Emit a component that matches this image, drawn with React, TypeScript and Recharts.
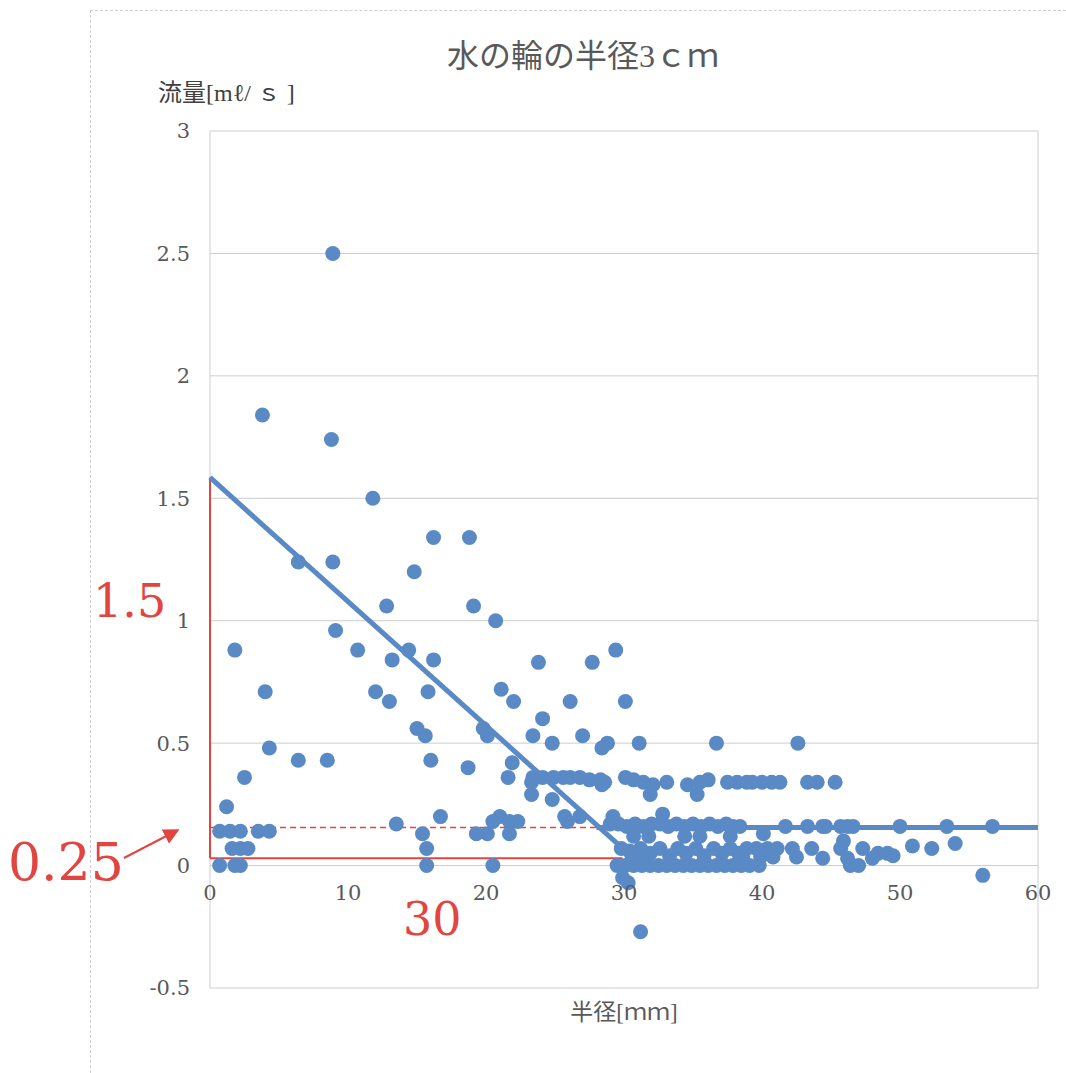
import React from "react";
import {
  ScatterChart,
  Scatter,
  XAxis,
  YAxis,
  CartesianGrid,
  ReferenceLine,
  ReferenceDot,
} from "recharts";

// 半径[mm] , 流量[mℓ/s]
const upperPoints: [number, number][] = [
  [8.9, 2.5], [3.8, 1.84], [8.8, 1.74], [11.8, 1.5], [18.8, 1.34], [16.2, 1.34],
  [6.4, 1.24], [8.9, 1.24], [14.8, 1.2], [12.8, 1.06], [19.1, 1.06], [20.7, 1.0],
  [9.1, 0.96], [1.8, 0.88], [10.7, 0.88], [14.4, 0.88], [29.4, 0.88], [13.2, 0.84],
  [16.2, 0.84], [23.8, 0.83], [27.7, 0.83], [4.0, 0.71], [12.0, 0.71], [15.8, 0.71],
  [21.1, 0.72], [13.0, 0.67], [22.0, 0.67], [26.1, 0.67], [30.1, 0.67], [24.1, 0.6],
  [15.0, 0.56], [19.8, 0.56], [15.6, 0.53], [20.1, 0.53], [23.4, 0.53], [27.0, 0.53],
  [24.8, 0.5], [28.8, 0.5], [31.1, 0.5], [36.7, 0.5], [42.6, 0.5], [4.3, 0.48],
  [28.4, 0.48], [6.4, 0.43], [8.5, 0.43], [16.0, 0.43], [21.9, 0.42], [18.7, 0.4],
  [2.5, 0.36], [21.6, 0.36], [1.2, 0.24],
];

const band035: [number, number][] = [
  [23.3, 0.34], [23.4, 0.36], [24.1, 0.36], [24.9, 0.36], [25.6, 0.36], [26.1, 0.36],
  [26.8, 0.36], [27.5, 0.35], [28.3, 0.35], [28.6, 0.34], [30.1, 0.36], [30.7, 0.35],
  [31.4, 0.34], [32.1, 0.33], [33.1, 0.34], [34.6, 0.33], [35.5, 0.34], [36.1, 0.35],
  [37.5, 0.34], [38.2, 0.34], [38.9, 0.34], [39.3, 0.34], [40.0, 0.34], [40.7, 0.34],
  [41.3, 0.34], [43.3, 0.34], [44.0, 0.34], [45.3, 0.34], [23.3, 0.29], [24.8, 0.27],
  [31.9, 0.29], [35.3, 0.29], [28.4, 0.33],
];

const band017: [number, number][] = [
  [0.7, 0.14], [1.45, 0.14], [2.2, 0.14], [3.5, 0.14], [4.3, 0.14], [13.5, 0.17],
  [15.4, 0.13], [16.7, 0.2], [19.3, 0.13], [20.1, 0.13], [20.5, 0.18], [21.0, 0.2],
  [21.7, 0.18], [21.7, 0.13], [22.3, 0.18], [25.7, 0.2], [25.9, 0.18], [26.8, 0.2],
  [29.2, 0.2], [29.0, 0.17], [29.6, 0.17], [30.2, 0.16], [30.8, 0.17], [31.4, 0.16],
  [32.0, 0.17], [32.8, 0.21], [32.6, 0.17], [33.2, 0.16], [33.8, 0.17], [34.4, 0.16],
  [35.0, 0.17], [35.6, 0.16], [36.2, 0.17], [36.8, 0.16], [37.4, 0.17], [37.9, 0.16],
  [38.4, 0.16], [41.7, 0.16], [43.3, 0.16], [44.4, 0.16], [44.6, 0.16], [45.7, 0.16],
  [46.2, 0.16], [46.6, 0.16], [50.0, 0.16], [53.4, 0.16], [56.7, 0.16], [30.7, 0.12],
  [31.8, 0.12], [34.4, 0.12], [35.5, 0.12], [37.7, 0.12], [40.1, 0.13], [45.9, 0.1],
];

const band006: [number, number][] = [
  [1.6, 0.07], [2.2, 0.07], [2.75, 0.07], [15.7, 0.07], [29.8, 0.07], [30.4, 0.06],
  [31.2, 0.07], [31.9, 0.05], [32.6, 0.07], [33.3, 0.04], [33.9, 0.07], [34.5, 0.05],
  [35.2, 0.07], [35.8, 0.04], [36.5, 0.07], [37.1, 0.05], [37.7, 0.07], [38.3, 0.05],
  [38.9, 0.07], [39.6, 0.07], [40.4, 0.07], [41.1, 0.07], [42.2, 0.07], [43.6, 0.07],
  [45.7, 0.07], [38.6, 0.035], [39.9, 0.035], [40.8, 0.035], [42.5, 0.035], [44.4, 0.03],
  [46.2, 0.03], [48.0, 0.03], [48.4, 0.05], [49.1, 0.05], [49.5, 0.04], [50.9, 0.08],
  [52.3, 0.07], [54.0, 0.09], [47.3, 0.07], [30.6, 0.03], [31.5, 0.03],
];

const band000: [number, number][] = [
  [0.7, 0], [1.8, 0], [2.2, 0], [15.7, 0], [20.5, 0], [29.5, 0], [30.1, 0], [30.7, 0],
  [31.3, 0], [31.9, 0], [32.5, 0], [33.1, 0], [33.7, 0], [34.3, 0], [34.9, 0], [35.5, 0],
  [36.1, 0], [36.7, 0], [37.3, 0], [37.9, 0], [38.5, 0], [39.1, 0], [39.8, 0], [46.4, 0],
  [47.0, 0], [29.9, -0.05], [30.3, -0.07], [31.2, -0.27], [56.0, -0.04],
];

// 近似線
const trendSlope: [number, number][] = [[0, 1.585], [29.7, 0.08]];
const trendFlat: [number, number][] = [[28, 0.155], [60, 0.155]];

const xTicks = [0, 10, 20, 30, 40, 50, 60];
const yTicks = [-0.5, 0, 0.5, 1, 1.5, 2, 2.5, 3];

const BLUE = "#5a8ac6";
const RED = "#e2443f";
const TEXT = "#595959";
const FONT = "'Liberation Serif', 'Noto Sans CJK JP', serif";
const NUM_FONT = "'DejaVu Serif', serif";

const toXY = (arr: [number, number][]) => arr.map(([x, y]) => ({ x, y }));
const allPoints = toXY([...upperPoints, ...band035, ...band017, ...band006, ...band000]);

const Dot = (props: any) => <circle cx={props.cx} cy={props.cy} r={7.5} fill={BLUE} />;
const NoDot = () => <g />;

export default function App() {
  return (
    <div
      style={{
        position: "absolute",
        left: 0,
        top: 0,
        width: 1066,
        height: 1073,
        background: "#fff",
        fontFamily: FONT,
      }}
    >
      <div
        style={{
          position: "absolute",
          left: 90,
          top: 10,
          right: 0,
          bottom: 0,
          borderLeft: "1px dashed #cfcfcf",
          borderTop: "1px dashed #cfcfcf",
        }}
      />
      <ScatterChart
        width={1066}
        height={1073}
        margin={{ top: 131, right: 28, bottom: 35, left: 150 }}
        style={{ position: "absolute", left: 0, top: 0 }}
      >
        <CartesianGrid stroke="#cdcdcd" />
        <XAxis
          type="number"
          dataKey="x"
          domain={[0, 60]}
          ticks={xTicks}
          tick={false}
          axisLine={false}
          tickLine={false}
          height={50}
          label={{
            value: "半径[ｍｍ]",
            position: "insideBottom",
            offset: 18,
            fill: TEXT,
            fontSize: 23,
            fontFamily: FONT,
          }}
        />
        <YAxis
          type="number"
          dataKey="y"
          domain={[-0.5, 3]}
          ticks={yTicks}
          width={60}
          axisLine={false}
          tickLine={false}
          tickMargin={14}
          tick={{ fill: TEXT, fontSize: 21, fontFamily: NUM_FONT }}
        />
        <Scatter data={allPoints} shape={Dot} isAnimationActive={false} />
        <Scatter
          data={toXY(trendSlope)}
          line={{ stroke: BLUE, strokeWidth: 5 }}
          shape={NoDot}
          isAnimationActive={false}
        />
        <Scatter
          data={toXY(trendFlat)}
          line={{ stroke: BLUE, strokeWidth: 5 }}
          shape={NoDot}
          isAnimationActive={false}
        />
        <ReferenceLine
          segment={[{ x: 0, y: 0.03 }, { x: 0, y: 1.585 }]}
          stroke={RED}
          strokeWidth={2}
        />
        <ReferenceLine
          segment={[{ x: 0, y: 0.03 }, { x: 29.9, y: 0.03 }]}
          stroke={RED}
          strokeWidth={2}
        />
        <ReferenceLine
          segment={[{ x: 0, y: 0.155 }, { x: 28, y: 0.155 }]}
          stroke={RED}
          strokeWidth={1.5}
          strokeDasharray="6 4"
        />
        {xTicks.map((t) => (
          <ReferenceDot
            key={t}
            x={t}
            y={0}
            r={0}
            fill="none"
            stroke="none"
            label={{
              value: String(t),
              position: "bottom",
              offset: 20,
              fill: TEXT,
              fontSize: 21,
              fontFamily: NUM_FONT,
            }}
          />
        ))}
      </ScatterChart>
      <svg
        width={1066}
        height={1073}
        style={{ position: "absolute", left: 0, top: 0, pointerEvents: "none" }}
      >
        <defs>
          <marker id="arrowHead" markerWidth="8" markerHeight="8" refX="6" refY="4" orient="auto">
            <path d="M0,0 L8,4 L0,8 z" fill={RED} />
          </marker>
        </defs>
        <text x={583} y={67} textAnchor="middle" fontSize={32} fill={TEXT} fontFamily={FONT}>
          水の輪の半径3ｃｍ
        </text>
        <text x={158} y={101} fontSize={24} fill="#404040" fontFamily={FONT}>
          流量[mℓ/ ｓ ]
        </text>
        <text x={93} y={617} fontSize={46} fill={RED} fontFamily={NUM_FONT}>
          1.5
        </text>
        <text x={8} y={880} fontSize={52} fill={RED} fontFamily={NUM_FONT}>
          0.25
        </text>
        <text x={403} y={935} fontSize={46} fill={RED} fontFamily={NUM_FONT}>
          30
        </text>
        <line
          x1={124}
          y1={858}
          x2={176}
          y2={831}
          stroke={RED}
          strokeWidth={2}
          markerEnd="url(#arrowHead)"
        />
      </svg>
    </div>
  );
}
